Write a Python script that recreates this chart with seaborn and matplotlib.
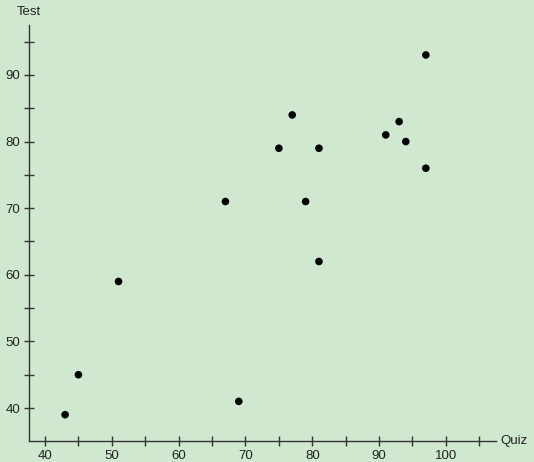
import matplotlib
matplotlib.use("Agg")
import matplotlib.pyplot as plt
import seaborn as sns
import pandas as pd

quiz = [43, 45, 51, 67, 69, 75, 77, 79, 81, 81, 91, 93, 94, 97, 97]
test = [39, 45, 59, 71, 41, 79, 84, 71, 79, 62, 81, 83, 80, 93, 76]
xticks = [40, 50, 60, 70, 80, 90, 100]
yticks = [40, 50, 60, 70, 80, 90]

df = pd.DataFrame({"Quiz": quiz, "Test": test})

sns.set_style("white")
plt.rcParams['font.family'] = ['Liberation Sans', 'DejaVu Sans']
bg = "#d0e8d0"
fig = plt.figure(figsize=(5.34, 4.62), dpi=100, facecolor=bg)
W, H = 534, 462
ax = fig.add_axes([29 / W, (H - 441) / H, (496 - 29) / W, (441 - 25) / H])
ax.set_facecolor(bg)
sns.scatterplot(data=df, x="Quiz", y="Test", color="black", s=30, edgecolor="none", ax=ax, zorder=3)
ax.set_xlim(37.6, 107.5)
ax.set_ylim(35.05, 97.5)
ax.set_xticks(xticks)
ax.set_yticks(yticks)
ax.set_xticks([45, 55, 65, 75, 85, 95, 105], minor=True)
ax.set_yticks([45, 55, 65, 75, 85, 95], minor=True)
for s in ["top", "right"]:
    ax.spines[s].set_visible(False)
for s in ["left", "bottom"]:
    ax.spines[s].set_color("#333333")
    ax.spines[s].set_linewidth(1.0)
ax.tick_params(axis="both", which="both", bottom=True, left=True)
ax.tick_params(which="both", direction="inout", length=7, width=1, color="#333333",
               labelsize=9.5, labelcolor="#222222", pad=3)
ax.tick_params(which="minor", labelbottom=False, labelleft=False)
ax.set_xlabel("")
ax.set_ylabel("")
ax.text(1.01, 0.0, "Quiz", transform=ax.transAxes, ha="left", va="center", fontsize=9.5, color="#222222")
ax.text(0.0, 1.018, "Test", transform=ax.transAxes, ha="center", va="bottom", fontsize=9.5, color="#222222")
fig.savefig("out.png", dpi=100, facecolor=bg)
